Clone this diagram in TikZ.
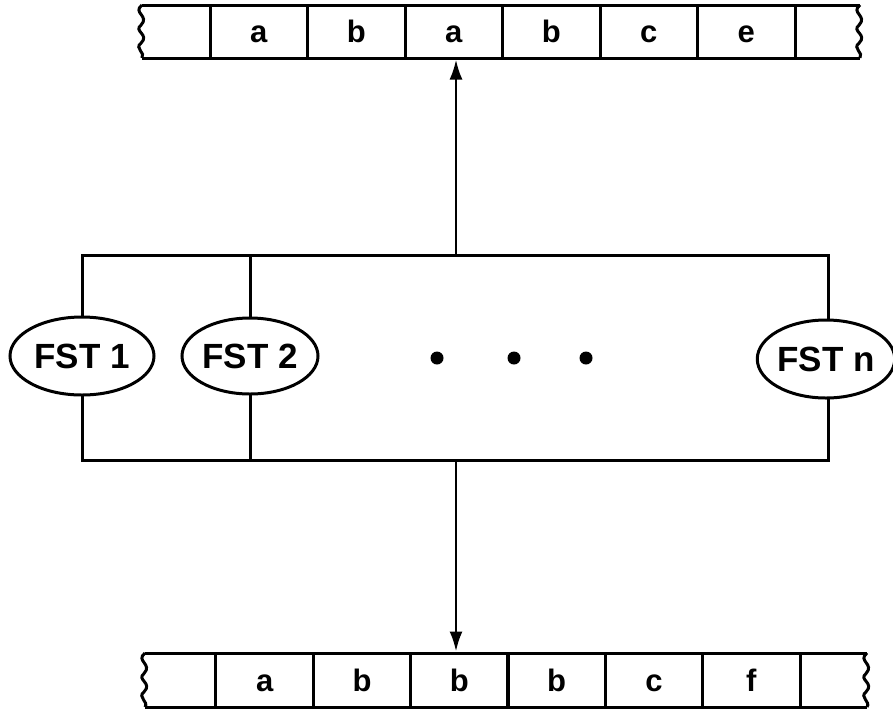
\documentclass[tikz,border=0pt]{standalone}
\usepackage{fontspec}
\setmainfont{Liberation Sans}
\usetikzlibrary{shapes.geometric,arrows.meta}
\newcommand{\tapewave}[3]{%
  \draw (#1,#2) .. controls ({#1-10},{#2+0.15*(#3-#2)}) and ({#1+8},{#2+0.2*(#3-#2)}) .. ({#1-1},{#2+0.38*(#3-#2)})
        .. controls ({#1-9},{#2+0.5*(#3-#2)}) and ({#1+8},{#2+0.55*(#3-#2)}) .. ({#1-1},{#2+0.72*(#3-#2)})
        .. controls ({#1-8},{#2+0.82*(#3-#2)}) and ({#1+4},{#2+0.9*(#3-#2)}) .. (#1,#3);}
\begin{document}
\begin{tikzpicture}[x=1pt,y=-1pt,
  line width=3pt,
  cellbox/.style={draw,rectangle,minimum width=97.5pt,minimum height=53pt,inner sep=0pt,
    text height=22pt,text depth=0pt,font=\fontsize{31}{31}\selectfont\bfseries},
  fstnode/.style={draw,ellipse,fill=white,inner sep=0pt,
    font=\fontsize{35}{35}\selectfont\bfseries},
  dotnode/.style={circle,fill=black,inner sep=0pt,minimum size=13pt},
  conn/.style={-{Latex[length=20pt,width=13pt]},line width=2.6pt}]
\useasboundingbox (0,0) rectangle (893,710);

% ---- top tape ----
\draw (142,5) -- (860,5);
\draw (142,58) -- (860,58);
\tapewave{142}{5}{58}
\tapewave{860}{5}{58}
\node[cellbox] (t1) at (258.75,31.5) {a};
\node[cellbox] (t2) at (356.25,31.5) {b};
\node[cellbox] (t3) at (453.75,31.5) {a};
\node[cellbox] (t4) at (551.25,31.5) {b};
\node[cellbox] (t5) at (648.75,31.5) {c};
\node[cellbox] (t6) at (746.25,31.5) {e};

% ---- bottom tape ----
\draw (145,653) -- (867,653);
\draw (145,707) -- (867,707);
\tapewave{145}{653}{707}
\tapewave{867}{653}{707}
\node[cellbox,minimum height=54pt] (b1) at (264.7,680) {a};
\node[cellbox,minimum height=54pt] (b2) at (362,680) {b};
\node[cellbox,minimum height=54pt] (b3) at (459.3,680) {b};
\node[cellbox,minimum height=54pt] (b4) at (556.7,680) {b};
\node[cellbox,minimum height=54pt] (b5) at (654,680) {c};
\node[cellbox,minimum height=54pt] (b6) at (751.3,680) {f};

% ---- middle frame ----
\coordinate (bt) at (456,255);
\coordinate (bb) at (456,460);
\draw (82,255) rectangle (828,460);
\draw (250,255) -- (250,460);

\node[fstnode,minimum width=144pt,minimum height=78pt] (f1) at (82,356) {FST 1};
\node[fstnode,minimum width=136pt,minimum height=76pt] (f2) at (250,356) {FST 2};
\node[fstnode,minimum width=130pt,minimum height=78pt] (fn) at (826,359) {FST n};

\node[dotnode] (d1) at (437,358) {};
\node[dotnode] (d2) at (514,358) {};
\node[dotnode] (d3) at (586,358) {};

% ---- connectors ----
\draw[conn] (bt) -- (bt |- t3.south);
\draw[conn] (bb) -- (bb |- b3.north);
\end{tikzpicture}
\end{document}
